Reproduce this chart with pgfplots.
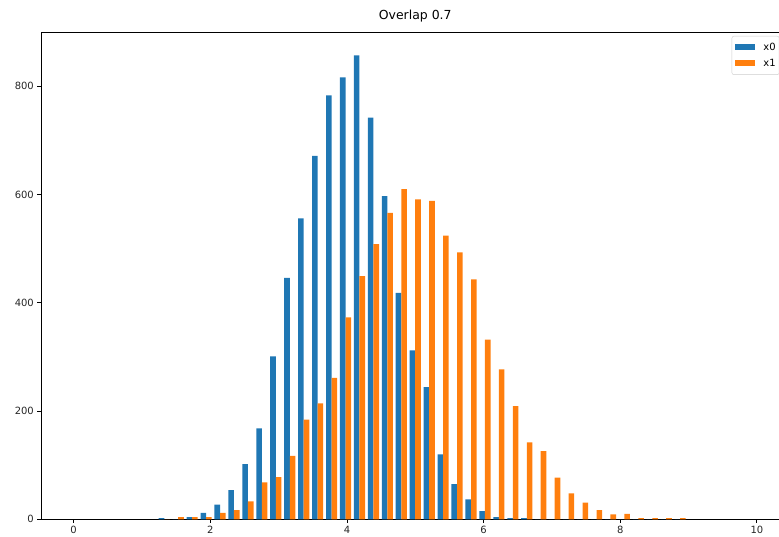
\documentclass[border=0pt]{standalone}
\usepackage{pgfplots}
\pgfplotsset{compat=1.18}
\usepackage{pgfplotstable}
\usepackage{fontspec}
\setmainfont{DejaVu Sans}
\definecolor{mplblue}{HTML}{1F77B4}
\definecolor{mplorange}{HTML}{FF7F0E}
% bin index k (bins of width 10/49 from 0 to 10), counts of x0 and x1
\pgfplotstableread{
k  blue orange
6    2    0
7    0    4
8    4    4
9   12    4
10  27   12
11  54   17
12 102   33
13 168   68
14 301   78
15 446  117
16 556  184
17 671  214
18 783  261
19 816  373
20 857  449
21 742  508
22 597  566
23 418  610
24 312  591
25 244  588
26 120  524
27  65  493
28  37  443
29  15  332
30   4  277
31   2  209
32   2  142
33   0  126
34   0   77
35   0   48
36   0   31
37   0   17
38   0    9
39   0   10
40   0    2
41   0    2
42   0    2
43   0    2
}\histdata
\begin{document}
\begin{tikzpicture}
\begin{axis}[
  at={(41bp,17.7bp)}, anchor=south west,
  scale only axis,
  width=748.5bp, height=487.3bp,
  xmin=-0.478, xmax=10.478,
  ymin=0, ymax=900,
  xtick={0,2,4,6,8,10},
  ytick={0,200,400,600,800},
  xtick pos=lower, ytick pos=left,
  tick align=outside,
  major tick length=3.5bp,
  every tick/.style={black, line width=0.8bp},
  axis line style={black, line width=0.8bp},
  /pgf/number format/assume math mode=true,
  ticklabel style={font=\fontsize{10}{12}\selectfont, text=black!85},
  xticklabel style={inner sep=0pt, anchor=north, yshift=-3.5bp},
  yticklabel style={inner sep=0pt, anchor=east, xshift=-3.5bp},
  title={Overlap 0.7},
  title style={font=\fontsize{12.5}{14}\selectfont, at={(0.5,1)}, anchor=south, inner sep=0pt, yshift=4bp},
  legend style={at={(axis description cs:0.9228,0.9918)}, anchor=north west,
    draw=black!20, rounded corners=2bp, fill=white, inner xsep=3.5bp, inner ysep=6.5bp,
    column sep=8bp, row sep=7.5bp, font=\fontsize{10}{12}\selectfont,
    nodes={inner sep=0pt, text height=7.5bp, text depth=1.5bp, anchor=base west}},
  legend cell align=left,
]
\addplot[ybar, bar width=0.0816327, bar shift=0, fill=mplblue, draw=none,
  legend image code/.code={\fill[mplblue, sharp corners] (0bp,0.5bp) rectangle (20bp,6.5bp);}]
  table[x expr={(\thisrow{k}+0.3)*10/49}, y=blue] {\histdata};
\addlegendentry{x0}
\addplot[ybar, bar width=0.0816327, bar shift=0, fill=mplorange, draw=none,
  legend image code/.code={\fill[mplorange, sharp corners] (0bp,0.5bp) rectangle (20bp,6.5bp);}]
  table[x expr={(\thisrow{k}+0.7)*10/49}, y=orange] {\histdata};
\addlegendentry{x1}
\end{axis}
\pgfresetboundingbox
\path[use as bounding box] (0,0) rectangle (779bp,537bp);
\end{tikzpicture}
\end{document}
